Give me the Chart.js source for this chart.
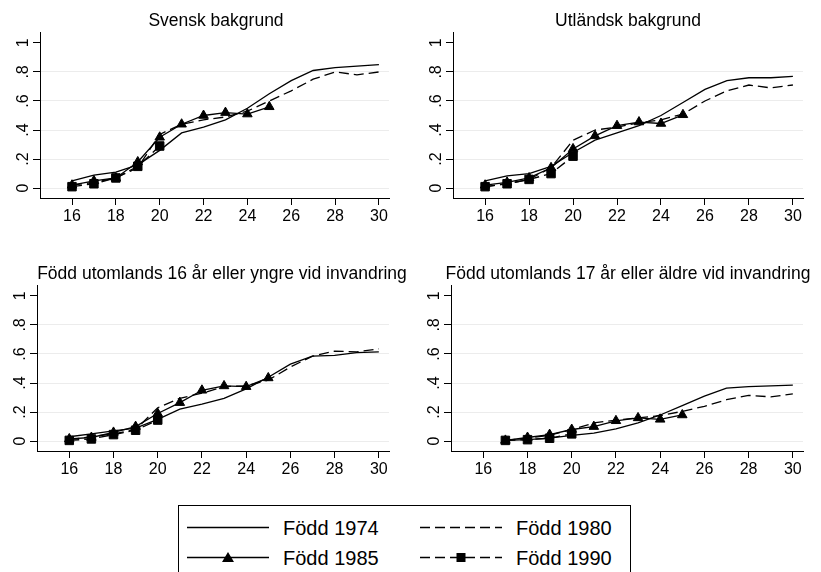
<!DOCTYPE html>
<html>
<head>
<meta charset="utf-8">
<script src="https://cdn.jsdelivr.net/npm/chart.js@4.4.0/dist/chart.umd.min.js"></script>
<style>
    body { margin: 0; width: 821px; height: 572px; overflow: hidden; position: relative; background: #fff;
           font-family: "Liberation Sans", Arial, sans-serif; color: #000; }
    .panel { position: absolute; width: 410px; height: 250px; overflow: hidden; }
    .panel canvas { position: absolute; left: 0; top: 0; }
    .ptitle { position: absolute; top: 10px; width: 600px; margin-left: -300px; text-align: center;
              white-space: nowrap; font-size: 17.5px; line-height: 20px; }
    #legend { position: absolute; left: 178px; top: 505px; width: 453px; height: 90px; border: 1px solid #000; box-sizing: border-box; }
    .item { position: absolute; height: 24px; display: flex; align-items: center; font-size: 20px; white-space: nowrap; }
    .item svg { margin-right: 14px; }
</style>
</head>
<body>
<div class="panel" id="p1" style="left:0;top:0"><canvas id="c1" width="410" height="250"></canvas><div class="ptitle" style="left:216px"></div></div>
<div class="panel" id="p2" style="left:413px;top:0"><canvas id="c2" width="410" height="250"></canvas><div class="ptitle" style="left:215px"></div></div>
<div class="panel" id="p3" style="left:0;top:253px"><canvas id="c3" width="410" height="250"></canvas><div class="ptitle" style="left:222px"></div></div>
<div class="panel" id="p4" style="left:413px;top:253px"><canvas id="c4" width="410" height="250"></canvas><div class="ptitle" style="left:215px"></div></div>
<div id="legend"></div>

<script>
// Ages on the x axis and tick labels
const ages = [16, 17, 18, 19, 20, 21, 22, 23, 24, 25, 26, 27, 28, 29, 30];
const xTicks = [16, 18, 20, 22, 24, 26, 28, 30];
const yTicks = [0, 0.2, 0.4, 0.6, 0.8, 1];
const yTickLabels = ['0', '.2', '.4', '.6', '.8', '1'];

const seriesNames = ['Född 1974', 'Född 1980', 'Född 1985', 'Född 1990'];
const panelTitles = [
    'Svensk bakgrund',
    'Utländsk bakgrund',
    'Född utomlands 16 år eller yngre vid invandring',
    'Född utomlands 17 år eller äldre vid invandring'
];

// Svensk bakgrund
const svensk1974 = [0.05, 0.09, 0.11, 0.16, 0.26, 0.38, 0.42, 0.47, 0.55, 0.65, 0.74, 0.81, 0.83, 0.84, 0.85];
const svensk1980 = [0.02, 0.04, 0.07, 0.14, 0.37, 0.44, 0.47, 0.49, 0.53, 0.60, 0.67, 0.75, 0.80, 0.78, 0.80];
const svensk1985 = [0.02, 0.05, 0.07, 0.18, 0.35, 0.44, 0.50, 0.52, 0.51, 0.56, null, null, null, null, null];
const svensk1990 = [0.01, 0.03, 0.07, 0.15, 0.29, null, null, null, null, null, null, null, null, null, null];

// Utländsk bakgrund
const utl1974 = [0.05, 0.085, 0.10, 0.15, 0.245, 0.33, 0.38, 0.43, 0.50, 0.59, 0.68, 0.74, 0.76, 0.76, 0.77];
const utl1980 = [0.01, 0.03, 0.06, 0.14, 0.33, 0.40, 0.42, 0.45, 0.47, 0.51, 0.60, 0.67, 0.71, 0.69, 0.71];
const utl1985 = [0.02, 0.04, 0.07, 0.14, 0.27, 0.36, 0.43, 0.455, 0.445, 0.505, null, null, null, null, null];
const utl1990 = [0.01, 0.03, 0.06, 0.10, 0.22, null, null, null, null, null, null, null, null, null, null];

// Född utomlands 16 år eller yngre
const yngre1974 = [0.03, 0.05, 0.07, 0.09, 0.15, 0.22, 0.255, 0.295, 0.36, 0.44, 0.53, 0.585, 0.59, 0.61, 0.615];
const yngre1980 = [0.01, 0.03, 0.05, 0.08, 0.23, 0.295, 0.33, 0.375, 0.38, 0.42, 0.51, 0.585, 0.62, 0.615, 0.635];
const yngre1985 = [0.015, 0.025, 0.06, 0.10, 0.19, 0.265, 0.35, 0.38, 0.375, 0.435, null, null, null, null, null];
const yngre1990 = [0.005, 0.015, 0.045, 0.075, 0.145, null, null, null, null, null, null, null, null, null, null];

// Född utomlands 17 år eller äldre
const aldre1974 = [null, 0.005, 0.01, 0.02, 0.04, 0.055, 0.085, 0.125, 0.18, 0.245, 0.31, 0.365, 0.375, 0.38, 0.385];
const aldre1980 = [null, 0.005, 0.02, 0.04, 0.08, 0.125, 0.145, 0.16, 0.175, 0.205, 0.24, 0.285, 0.315, 0.305, 0.325];
const aldre1985 = [null, 0.005, 0.025, 0.045, 0.08, 0.10, 0.14, 0.16, 0.15, 0.18, null, null, null, null, null];
const aldre1990 = [null, 0.005, 0.01, 0.02, 0.05, null, null, null, null, null, null, null, null, null, null];

// Line look per series: solid, dashed, solid + triangles, dashed + squares
const dashes = [[], [10, 5], [], [10, 5]];
const markers = [false, false, 'triangle', 'rect'];
const markerSizes = [0, 0, 5.5, 6];

function makePanel(canvasId, values, areaLeft, areaRight) {
    new Chart(document.getElementById(canvasId), {
        type: 'line',
        data: {
            datasets: values.map((vals, i) => ({
                label: seriesNames[i],
                data: ages.map((a, j) => ({ x: a, y: vals[j] })).filter(p => p.y !== null),
                borderColor: '#000',
                backgroundColor: '#000',
                borderWidth: 1.3,
                borderDash: dashes[i],
                tension: 0,
                pointStyle: markers[i],
                pointRadius: markerSizes[i],
                pointBorderWidth: 1,
                order: 3 - i
            }))
        },
        options: {
            responsive: false,
            animation: false,
            devicePixelRatio: 1,
            events: [],
            layout: { padding: { left: 0, right: 410 - areaRight, top: 32, bottom: 22 } },
            plugins: { legend: { display: false }, tooltip: { enabled: false }, title: { display: false } },
            scales: {
                x: {
                    type: 'linear',
                    min: 14.54,
                    max: 30.46,
                    afterBuildTicks: s => { s.ticks = xTicks.map(v => ({ value: v })); },
                    afterFit: s => { s.height = 30; },
                    ticks: {
                        callback: v => String(v),
                        color: '#000',
                        padding: 2,
                        maxRotation: 0,
                        autoSkip: false,
                        font: { family: '"Liberation Sans", Arial, sans-serif', size: 16 }
                    },
                    grid: { drawOnChartArea: false, tickColor: '#000', tickLength: 7 },
                    border: { display: true, color: '#000', width: 1 }
                },
                y: {
                    min: -0.068,
                    max: 1.075,
                    afterBuildTicks: s => { s.ticks = yTicks.map(v => ({ value: v })); },
                    afterFit: s => { s.width = areaLeft; },
                    ticks: {
                        callback: (v, i) => yTickLabels[i],
                        color: '#000',
                        padding: 3,
                        minRotation: 90,
                        maxRotation: 90,
                        crossAlign: 'center',
                        autoSkip: false,
                        font: { family: '"Liberation Sans", Arial, sans-serif', size: 16 }
                    },
                    grid: {
                        color: c => (c.tick && c.tick.value === 1) ? 'rgba(0,0,0,0)' : '#ececec',
                        tickColor: '#000',
                        tickLength: 7
                    },
                    border: { display: true, color: '#000', width: 1 }
                }
            }
        }
    });
}

document.querySelectorAll('.ptitle').forEach((el, i) => { el.textContent = panelTitles[i]; });

makePanel('c1', [svensk1974, svensk1980, svensk1985, svensk1990], 40, 389);
makePanel('c2', [utl1974, utl1980, utl1985, utl1990], 40, 390);
makePanel('c3', [yngre1974, yngre1980, yngre1985, yngre1990], 37, 389);
makePanel('c4', [aldre1974, aldre1980, aldre1985, aldre1990], 38, 390);

// Legend: two columns, two rows, line samples with markers
function sample(i) {
    const dash = dashes[i].length ? ` stroke-dasharray="${dashes[i].join(' ')}"` : '';
    let mark = '';
    if (markers[i] === 'triangle') mark = '<polygon points="41,2 47,12 35,12" fill="#000"/>';
    if (markers[i] === 'rect') mark = '<rect x="36.5" y="3" width="9" height="9" fill="#000"/>';
    return `<svg width="82" height="16"><line x1="0" y1="7.5" x2="82" y2="7.5" stroke="#000" stroke-width="1.3"${dash}/>${mark}</svg>`;
}
const legend = document.getElementById('legend');
const legendPos = [[8, 10], [241, 10], [8, 40], [241, 40]];
[0, 1, 2, 3].forEach(i => {
    const el = document.createElement('div');
    el.className = 'item';
    el.style.left = legendPos[i][0] + 'px';
    el.style.top = legendPos[i][1] + 'px';
    el.innerHTML = sample(i) + '<span></span>';
    el.querySelector('span').textContent = seriesNames[i];
    legend.appendChild(el);
});
</script>
</body>
</html>
